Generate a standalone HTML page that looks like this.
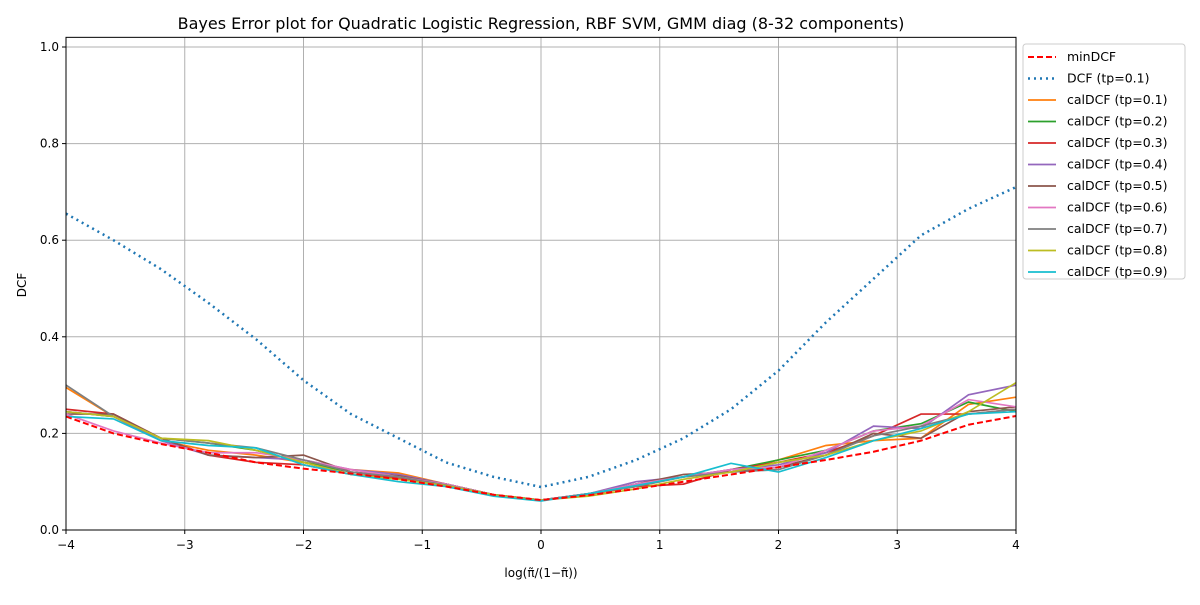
<!DOCTYPE html>
<html><head><meta charset="utf-8"><style>
body{margin:0;background:#fff;font-family:"Liberation Sans","DejaVu Sans",sans-serif}
svg text{font-family:"DejaVu Sans","Liberation Sans",sans-serif}
</style></head><body>
<svg id="c" width="1200" height="600" xmlns="http://www.w3.org/2000/svg"></svg>
<script>
const xs=[-4,-3.6,-3.2,-2.8,-2.4,-2,-1.6,-1.2,-0.8,-0.4,0,0.4,0.8,1.2,1.6,2,2.4,2.8,3.2,3.6,4];
const minDCF=[0.235,0.2,0.178,0.16,0.14,0.127,0.117,0.105,0.09,0.073,0.062,0.072,0.085,0.1,0.115,0.13,0.145,0.162,0.185,0.218,0.236];
const actDCF=[0.655,0.6,0.54,0.47,0.395,0.31,0.24,0.19,0.14,0.11,0.089,0.11,0.145,0.19,0.25,0.33,0.43,0.52,0.61,0.665,0.71];
const cal01=[0.295,0.235,0.185,0.165,0.155,0.14,0.125,0.118,0.095,0.073,0.062,0.073,0.09,0.11,0.12,0.145,0.175,0.185,0.19,0.26,0.275];
const cal02=[0.245,0.235,0.19,0.18,0.165,0.14,0.12,0.11,0.095,0.073,0.062,0.075,0.095,0.11,0.125,0.145,0.165,0.205,0.22,0.265,0.245];
const cal03=[0.25,0.24,0.19,0.155,0.14,0.135,0.115,0.108,0.095,0.073,0.062,0.075,0.09,0.095,0.125,0.14,0.16,0.195,0.24,0.24,0.25];
const cal04=[0.245,0.235,0.185,0.155,0.15,0.145,0.125,0.115,0.095,0.073,0.062,0.075,0.1,0.11,0.125,0.135,0.16,0.215,0.21,0.28,0.3];
const cal05=[0.24,0.24,0.19,0.155,0.15,0.155,0.12,0.112,0.095,0.073,0.062,0.075,0.095,0.115,0.12,0.13,0.155,0.2,0.19,0.245,0.255];
const cal06=[0.24,0.205,0.18,0.16,0.16,0.145,0.125,0.11,0.095,0.073,0.062,0.075,0.095,0.11,0.125,0.13,0.165,0.205,0.215,0.27,0.255];
const cal07=[0.3,0.235,0.19,0.18,0.17,0.145,0.12,0.11,0.093,0.073,0.062,0.075,0.09,0.11,0.12,0.125,0.155,0.195,0.215,0.24,0.25];
const cal08=[0.245,0.235,0.19,0.185,0.165,0.14,0.115,0.105,0.092,0.073,0.062,0.07,0.085,0.105,0.12,0.14,0.155,0.185,0.205,0.245,0.305];
const cal09=[0.235,0.23,0.185,0.175,0.17,0.135,0.115,0.1,0.09,0.07,0.06,0.075,0.092,0.11,0.138,0.12,0.15,0.185,0.21,0.24,0.245];
const xTicks=[-4,-3,-2,-1,0,1,2,3,4];
const xTickLabels=["−4","−3","−2","−1","0","1","2","3","4"];
const yTicks=[0,0.2,0.4,0.6,0.8,1.0];
const yTickLabels=["0.0","0.2","0.4","0.6","0.8","1.0"];

const svg=document.getElementById('c');const NS='http://www.w3.org/2000/svg';
const L=66,R=1016,B=530;
const X=v=>L+(v+4)/8*(R-L);
const Y=v=>B-v/1.0*483;
const T=Y(1.02);
function mk(t,a,p){const e=document.createElementNS(NS,t);for(const k in a)e.setAttribute(k,a[k]);(p||svg).appendChild(e);return e;}
xTicks.forEach((t,i)=>{
 const g=mk('line',{x1:X(t),x2:X(t),y1:T,y2:B,stroke:'#b0b0b0','stroke-width':1});
 
 
 const tk=mk('line',{x1:X(t),x2:X(t),y1:B,y2:B+4,stroke:'#000'});
 
 
 const lb=mk('text',{x:X(t),y:B+19,'text-anchor':'middle','font-size':12});
 lb.textContent=xTickLabels[i];
 
 
});
yTicks.forEach((t,i)=>{
 const g=mk('line',{x1:L,x2:R,y1:Y(t),y2:Y(t),stroke:'#b0b0b0','stroke-width':1});
 
 
 const tk=mk('line',{x1:L-4,x2:L,y1:Y(t),y2:Y(t),stroke:'#000'});
 
 
 const lb=mk('text',{x:L-7,y:Y(t)+4,'text-anchor':'end','font-size':12});
 lb.textContent=yTickLabels[i];
 
 
});
const series=[
 {n:'minDCF',d:minDCF,c:'#ff0000',dash:'6,3',w:2},
 {n:'DCF (tp=0.1)',d:actDCF,c:'#1f77b4',dash:'2,4',w:2.5},
 {n:'calDCF (tp=0.1)',d:cal01,c:'#ff7f0e'},
 {n:'calDCF (tp=0.2)',d:cal02,c:'#2ca02c'},
 {n:'calDCF (tp=0.3)',d:cal03,c:'#d62728'},
 {n:'calDCF (tp=0.4)',d:cal04,c:'#9467bd'},
 {n:'calDCF (tp=0.5)',d:cal05,c:'#8c564b'},
 {n:'calDCF (tp=0.6)',d:cal06,c:'#e377c2'},
 {n:'calDCF (tp=0.7)',d:cal07,c:'#7f7f7f'},
 {n:'calDCF (tp=0.8)',d:cal08,c:'#bcbd22'},
 {n:'calDCF (tp=0.9)',d:cal09,c:'#17becf'}];
const clip=mk('clipPath',{id:'pc'});mk('rect',{x:L,y:T,width:R-L,height:B-T},clip);
const draw=[...series.slice(2),series[0],series[1]];
draw.forEach(s=>{
 const p=mk('polyline',{points:s.d.map((v,i)=>X(xs[i])+','+Y(v)).join(' '),fill:'none',stroke:s.c,'stroke-width':s.w||1.7,'stroke-dasharray':s.dash||'none','clip-path':'url(#pc)'});
 
 
});
const fr=mk('rect',{x:L,y:T,width:R-L,height:B-T,fill:'none',stroke:'#000','stroke-width':1});


const ti=mk('text',{x:541,y:29,'text-anchor':'middle','font-size':16});
ti.textContent='Bayes Error plot for Quadratic Logistic Regression, RBF SVM, GMM diag (8-32 components)';


const yl=mk('text',{x:0,y:0,'text-anchor':'middle','font-size':12,transform:'translate(26,285) rotate(-90)'});
yl.textContent='DCF';


const xl=mk('text',{x:541,y:577,'text-anchor':'middle','font-size':12});
xl.textContent='log(π̃/(1−π̃))';


const lg=mk('g',{});


mk('rect',{x:1023,y:44,width:162,height:235,rx:3,fill:'#fff',stroke:'#ccc'},lg);
series.forEach((s,i)=>{
 const y=57+i*21.5;
 const e=mk('g',{},lg);
 
 
 mk('line',{x1:1028,x2:1056,y1:y,y2:y,stroke:s.c,'stroke-width':s.w||1.7,'stroke-dasharray':s.dash||'none'},e);
 const t=mk('text',{x:1067,y:y+4,'font-size':12.5},e);t.textContent=s.n;
});
</script>
</body></html>
